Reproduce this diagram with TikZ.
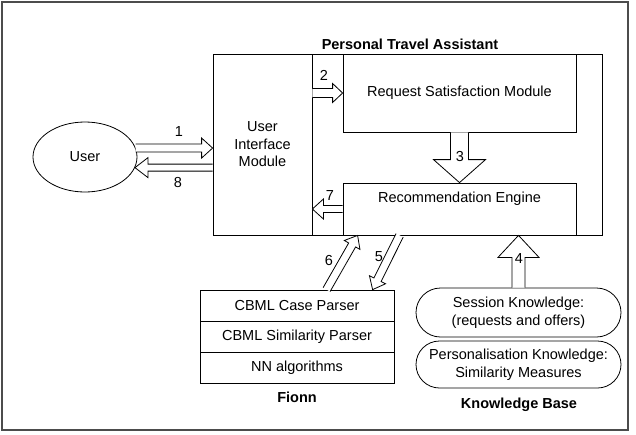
\documentclass[tikz,border=0pt]{standalone}
\usepackage{fontspec}
\setmainfont{Liberation Sans}
\usetikzlibrary{calc,shapes.geometric,shapes.misc}

\tikzset{
    box/.style={draw, line width=0.8pt, inner sep=0pt, align=center},
    row/.style={box, minimum width=194pt, minimum height=31pt},
    pill/.style={box, rounded rectangle, minimum width=205pt},
    num/.style={inner sep=0pt},
    heading/.style={inner sep=0pt, font=\fontsize{14.5}{17.5}\selectfont\bfseries},
}

% hollow block arrow: from, to, shaft half width, head half width, head length
\newcommand{\blockarrow}[5]{%
    \coordinate (hb) at ($(#2)!#5!(#1)$);
    \draw[line width=0.8pt, fill=white]
        ($(#1)!#3!90:(#2)$) -- ($(hb)!#3!90:(#2)$) -- ($(hb)!#4!90:(#2)$) -- (#2)
        -- ($(hb)!#4!-90:(#2)$) -- ($(hb)!#3!-90:(#2)$) -- ($(#1)!#3!-90:(#2)$);
}

\begin{document}
\begin{tikzpicture}[x=1pt, y=-1pt, font=\fontsize{14.5}{17.5}\selectfont]
            \useasboundingbox (0,0) rectangle (636,434);
            \draw[gray!60!black, line width=1.2pt] (2,2) rectangle (628,430);

            \node[heading] (title) at (410,44) {Personal Travel Assistant};
            \node[box, minimum width=389pt, minimum height=181pt] (pta) at (407.5,144.5) {};
            \node[box, minimum width=99pt, minimum height=181pt] (uim) at (262.5,144.5) {User\\Interface\\Module};
            \node[box, minimum width=233pt, minimum height=78pt] (rsm) at (459.5,93) {Request Satisfaction Module};
            \node[box, minimum width=233pt, minimum height=52pt] (re) at (459.5,209) {};
            \node[num] (retext) at ([yshift=-16pt]re.north) {Recommendation Engine};

            \node[draw, line width=0.8pt, ellipse, minimum width=104pt, minimum height=70pt] (user) at (85,157) {User};

            \node[row] (caseparser) at (297,305.5) {CBML Case Parser};
            \node[row] (simparser) at (297,336.5) {CBML Similarity Parser};
            \node[row] (nnalgo) at (297,367.5) {NN algorithms};
            \node[heading] (fionn) at (297,397) {Fionn};

            \node[pill, minimum height=49pt] (session) at (518.5,312.5) {Session Knowledge:\\(requests and offers)};
            \node[pill, minimum height=47pt] (personal) at (518.5,364.5) {Personalisation Knowledge:\\Similarity Measures};
            \node[heading] (kb) at (519,405) {Knowledge Base};

            \coordinate (a1s) at (user.10);
            \coordinate (a1e) at (user.10 -| uim.west);
            \coordinate (a8s) at (user.-12 -| uim.west);
            \coordinate (a8e) at (user.-12);
            \coordinate (a2s) at (rsm.west -| uim.east);
            \coordinate (a7e) at (re.west -| uim.east);
            \coordinate (a4e) at (session.north |- pta.south);
            \coordinate (a6s) at ($(caseparser.north west)+(127,0)$);
            \coordinate (a6e) at ($(pta.south west)+(145,0)$);
            \coordinate (a5s) at ($(pta.south west)+(187,0)$);
            \coordinate (a5e) at ($(caseparser.north west)+(173,0)$);

            \blockarrow{a1s}{a1e}{4pt}{10pt}{11pt}
            \blockarrow{a8s}{a8e}{3.5pt}{10pt}{13pt}
            \blockarrow{a2s}{rsm.west}{4.5pt}{9.5pt}{10pt}
            \blockarrow{rsm.south}{re.north}{9pt}{26pt}{23pt}
            \blockarrow{re.west}{a7e}{3.5pt}{10pt}{11pt}
            \blockarrow{session.north}{a4e}{6.5pt}{20.5pt}{22pt}
            \blockarrow{a6s}{a6e}{4pt}{9pt}{11pt}
            \blockarrow{a5s}{a5e}{4pt}{9pt}{11pt}

            \node[num] (n1) at (179,132) {1};
            \node[num] (n8) at (178,183) {8};
            \node[num] (n2) at (324,75) {2};
            \node[num] (n3) at (460,157) {3};
            \node[num] (n7) at (330,196) {7};
            \node[num] (n6) at (329,261) {6};
            \node[num] (n5) at (379,257) {5};
            \node[num] (n4) at (519,259) {4};

        \end{tikzpicture}
\end{document}
